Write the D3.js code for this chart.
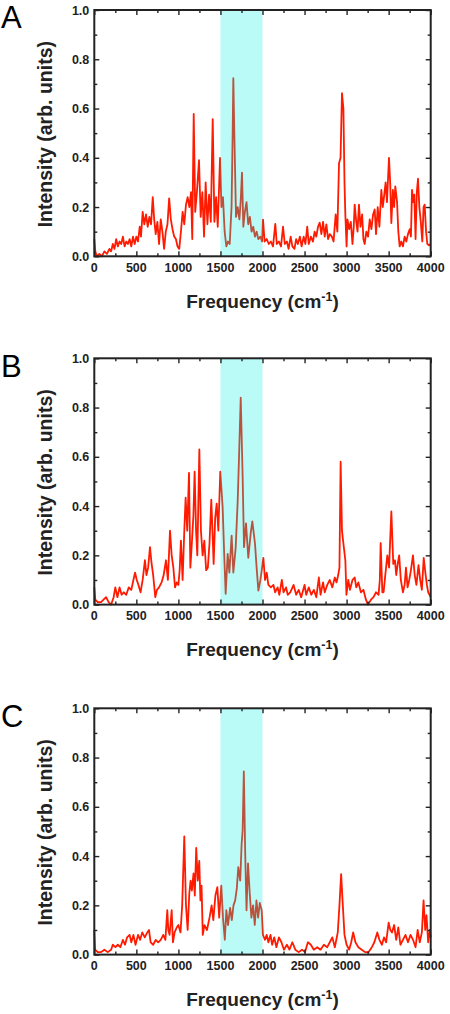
<!DOCTYPE html>
<html><head><meta charset="utf-8">
<script src="https://cdn.jsdelivr.net/npm/d3@7"></script>
<style>
html,body{margin:0;padding:0;background:#fff;}
svg{display:block;}
</style></head>
<body>
<svg id="chart" width="450" height="1014"></svg>
<script>
// ---- data (frequency cm^-1, intensity arb. units) ----
const panelLabels = ["A", "B", "C"];
const xTicks = [0, 500, 1000, 1500, 2000, 2500, 3000, 3500, 4000];
const yTicks = [0.0, 0.2, 0.4, 0.6, 0.8, 1.0];
const highlightBand = [1500, 2000];

const specA = [[0,0.07],[12,0.02],[30,0.0],[60,0.01],[90,0.0],[120,0.02],[150,0.01],[180,0.03],[200,0.02],[220,0.05],[240,0.03],[260,0.07],[280,0.04],[300,0.06],[320,0.05],[340,0.08],[360,0.04],[380,0.06],[400,0.05],[420,0.07],[440,0.04],[460,0.08],[480,0.05],[500,0.08],[520,0.06],[540,0.12],[555,0.08],[575,0.18],[595,0.13],[615,0.17],[635,0.12],[655,0.16],[675,0.13],[695,0.24],[712,0.15],[730,0.09],[750,0.14],[770,0.05],[790,0.15],[810,0.1],[830,0.03],[850,0.1],[870,0.13],[890,0.235],[910,0.15],[930,0.11],[950,0.08],[970,0.07],[990,0.04],[1010,0.03],[1030,0.1],[1050,0.18],[1070,0.13],[1090,0.21],[1110,0.24],[1130,0.2],[1150,0.26],[1165,0.07],[1182,0.578],[1200,0.18],[1220,0.26],[1245,0.39],[1265,0.16],[1285,0.26],[1305,0.08],[1324,0.3],[1345,0.13],[1365,0.25],[1385,0.14],[1408,0.557],[1428,0.14],[1448,0.24],[1468,0.12],[1495,0.40],[1512,0.2],[1530,0.24],[1550,0.1],[1570,0.04],[1590,0.06],[1610,0.05],[1632,0.2],[1645,0.5],[1653,0.723],[1668,0.45],[1685,0.16],[1705,0.2],[1725,0.15],[1740,0.22],[1756,0.34],[1772,0.12],[1790,0.18],[1810,0.22],[1830,0.13],[1850,0.16],[1870,0.1],[1890,0.12],[1910,0.08],[1930,0.1],[1950,0.07],[1975,0.08],[1995,0.06],[2006,0.149],[2025,0.06],[2050,0.07],[2075,0.05],[2100,0.06],[2125,0.04],[2152,0.132],[2170,0.05],[2195,0.06],[2220,0.04],[2244,0.12],[2265,0.05],[2290,0.06],[2310,0.03],[2335,0.08],[2355,0.04],[2380,0.03],[2400,0.07],[2420,0.05],[2445,0.08],[2465,0.04],[2490,0.08],[2510,0.05],[2532,0.12],[2550,0.05],[2575,0.08],[2600,0.06],[2620,0.1],[2640,0.08],[2660,0.12],[2680,0.137],[2700,0.09],[2720,0.14],[2740,0.08],[2759,0.13],[2780,0.07],[2800,0.09],[2825,0.08],[2845,0.06],[2870,0.17],[2890,0.1],[2910,0.378],[2928,0.4],[2945,0.662],[2962,0.6],[2975,0.3],[2985,0.17],[3000,0.04],[3010,0.15],[3030,0.11],[3050,0.14],[3070,0.05],[3085,0.12],[3096,0.21],[3115,0.14],[3130,0.1],[3147,0.21],[3165,0.12],[3185,0.17],[3200,0.07],[3215,0.05],[3235,0.1],[3255,0.08],[3275,0.15],[3295,0.11],[3315,0.17],[3334,0.19],[3350,0.09],[3370,0.2],[3390,0.12],[3413,0.27],[3430,0.2],[3448,0.25],[3464,0.30],[3480,0.22],[3504,0.40],[3518,0.3],[3532,0.135],[3550,0.27],[3565,0.2],[3579,0.284],[3600,0.22],[3615,0.1],[3631,0.04],[3650,0.06],[3670,0.04],[3690,0.08],[3710,0.06],[3730,0.09],[3750,0.11],[3765,0.08],[3778,0.27],[3792,0.22],[3805,0.25],[3820,0.07],[3835,0.26],[3849,0.315],[3865,0.2],[3882,0.14],[3900,0.06],[3915,0.2],[3928,0.21],[3945,0.1],[3960,0.05],[3980,0.045],[4000,0.05]];

const specB = [[0,0.07],[12,0.02],[40,0.01],[80,0.01],[110,0.02],[140,0.03],[170,0.01],[200,0.0],[230,0.03],[250,0.07],[275,0.03],[300,0.07],[325,0.04],[350,0.05],[380,0.04],[410,0.07],[440,0.06],[465,0.1],[484,0.13],[505,0.1],[525,0.08],[550,0.05],[575,0.1],[602,0.18],[620,0.12],[640,0.15],[662,0.233],[680,0.17],[700,0.12],[725,0.03],[745,0.06],[770,0.07],[800,0.09],[825,0.12],[852,0.18],[875,0.1],[900,0.30],[920,0.2],[940,0.15],[960,0.07],[980,0.09],[1000,0.08],[1015,0.14],[1030,0.26],[1050,0.1],[1070,0.3],[1086,0.434],[1105,0.3],[1126,0.535],[1142,0.15],[1160,0.25],[1178,0.36],[1193,0.54],[1210,0.3],[1225,0.2],[1249,0.63],[1268,0.3],[1288,0.2],[1308,0.26],[1330,0.14],[1350,0.15],[1370,0.25],[1391,0.426],[1405,0.3],[1419,0.165],[1437,0.35],[1455,0.41],[1475,0.3],[1498,0.54],[1526,0.396],[1545,0.2],[1562,0.044],[1586,0.206],[1606,0.13],[1633,0.28],[1653,0.13],[1681,0.23],[1705,0.42],[1721,0.6],[1741,0.84],[1764,0.518],[1780,0.233],[1804,0.33],[1831,0.19],[1860,0.29],[1879,0.338],[1911,0.247],[1930,0.15],[1951,0.057],[1975,0.1],[1995,0.15],[2010,0.19],[2030,0.1],[2050,0.13],[2070,0.08],[2100,0.07],[2130,0.08],[2150,0.05],[2180,0.07],[2200,0.04],[2230,0.1],[2250,0.05],[2280,0.07],[2300,0.04],[2330,0.05],[2370,0.08],[2400,0.04],[2430,0.06],[2460,0.03],[2500,0.08],[2520,0.04],[2550,0.07],[2580,0.04],[2610,0.06],[2640,0.03],[2670,0.11],[2690,0.04],[2720,0.09],[2740,0.05],[2770,0.08],[2800,0.1],[2830,0.07],[2860,0.11],[2880,0.09],[2900,0.12],[2915,0.15],[2929,0.58],[2945,0.3],[2960,0.254],[2985,0.18],[2998,0.04],[3020,0.1],[3040,0.06],[3070,0.1],[3096,0.11],[3115,0.07],[3140,0.09],[3170,0.05],[3200,0.06],[3230,0.02],[3254,0.0],[3290,0.02],[3320,0.03],[3350,0.05],[3380,0.04],[3395,0.1],[3405,0.25],[3425,0.05],[3440,0.05],[3460,0.12],[3484,0.2],[3505,0.15],[3532,0.378],[3555,0.165],[3575,0.18],[3590,0.12],[3610,0.17],[3625,0.2],[3645,0.1],[3670,0.05],[3690,0.08],[3706,0.15],[3725,0.07],[3745,0.1],[3765,0.14],[3789,0.2],[3810,0.12],[3830,0.08],[3855,0.16],[3875,0.1],[3895,0.06],[3917,0.19],[3940,0.12],[3955,0.08],[3970,0.05],[4000,0.03]];

const specC = [[0,0.1],[10,0.02],[40,0.01],[80,0.01],[120,0.02],[160,0.01],[200,0.02],[220,0.04],[250,0.03],[280,0.04],[310,0.03],[340,0.06],[365,0.04],[390,0.07],[420,0.08],[440,0.05],[465,0.08],[490,0.04],[520,0.08],[545,0.06],[570,0.09],[600,0.07],[630,0.09],[650,0.1],[670,0.05],[700,0.04],[730,0.06],[760,0.05],[790,0.06],[820,0.08],[845,0.06],[868,0.18],[880,0.1],[895,0.08],[920,0.18],[935,0.05],[955,0.09],[980,0.11],[1000,0.12],[1025,0.09],[1045,0.2],[1070,0.48],[1090,0.2],[1110,0.1],[1130,0.25],[1145,0.3],[1160,0.26],[1180,0.33],[1195,0.24],[1212,0.433],[1230,0.3],[1248,0.38],[1262,0.22],[1275,0.28],[1290,0.08],[1310,0.12],[1340,0.1],[1370,0.15],[1395,0.2],[1415,0.14],[1440,0.24],[1463,0.274],[1485,0.15],[1510,0.28],[1530,0.15],[1552,0.06],[1570,0.18],[1590,0.12],[1615,0.19],[1635,0.14],[1655,0.2],[1675,0.22],[1695,0.27],[1712,0.355],[1735,0.3],[1752,0.45],[1764,0.505],[1778,0.744],[1795,0.4],[1810,0.18],[1828,0.37],[1848,0.25],[1868,0.15],[1888,0.2],[1908,0.12],[1928,0.22],[1948,0.15],[1968,0.21],[1990,0.18],[2005,0.08],[2030,0.06],[2050,0.08],[2070,0.05],[2095,0.08],[2115,0.04],[2140,0.07],[2165,0.03],[2195,0.07],[2225,0.05],[2255,0.02],[2290,0.04],[2320,0.02],[2355,0.05],[2390,0.02],[2430,0.01],[2470,0.02],[2505,0.01],[2540,0.05],[2575,0.04],[2610,0.02],[2650,0.03],[2690,0.02],[2730,0.04],[2770,0.03],[2800,0.05],[2830,0.07],[2860,0.03],[2895,0.09],[2915,0.2],[2935,0.327],[2955,0.2],[2975,0.08],[3000,0.04],[3030,0.02],[3055,0.05],[3078,0.09],[3105,0.05],[3140,0.03],[3180,0.02],[3220,0.01],[3260,0.01],[3300,0.03],[3330,0.05],[3365,0.09],[3390,0.06],[3420,0.04],[3445,0.07],[3470,0.05],[3500,0.13],[3520,0.1],[3540,0.09],[3565,0.12],[3590,0.06],[3615,0.11],[3640,0.04],[3670,0.06],[3700,0.08],[3730,0.05],[3760,0.08],[3790,0.06],[3820,0.03],[3845,0.1],[3870,0.05],[3895,0.09],[3915,0.22],[3935,0.1],[3950,0.16],[3970,0.05],[3990,0.1],[4000,0.07]];

const spectra = [specA, specB, specC];

// ---- layout ----
const svg = d3.select("#chart");
const left = 94.3, right = 430.7, plotH = 246.3;
const tops = [10, 358.3, 708.3];
const FONT = "'Liberation Sans', Arial, Helvetica, sans-serif";

const x = d3.scaleLinear().domain([0, 4000]).range([left, right]);

spectra.forEach((data, i) => {
  const top = tops[i];
  const bottom = top + plotH;
  const y = d3.scaleLinear().domain([0, 1]).range([bottom, top]);
  const g = svg.append("g");

  // spectrum line
  const line = d3.line().x(d => x(d[0])).y(d => y(d[1]));
  g.append("path").datum(data)
    .attr("d", line)
    .attr("fill", "none")
    .attr("stroke", "#ff1a00")
    .attr("stroke-width", 1.8)
    .attr("stroke-linejoin", "round");

  // highlight band (translucent, over the line)
  g.append("rect")
    .attr("x", x(highlightBand[0]))
    .attr("y", top)
    .attr("width", x(highlightBand[1]) - x(highlightBand[0]))
    .attr("height", plotH)
    .attr("fill", "#00f0e6")
    .attr("fill-opacity", 0.27);

  // axes with inward ticks
  const xMinor = d3.range(0, 4001, 250);
  const yMinor = d3.range(0, 1.001, 0.1);
  const addTicks = (axisFn, scale, vals, transform, majorTest) => {
    const ag = g.append("g").attr("transform", transform);
    ag.call(axisFn(scale).tickValues(vals).tickFormat("").tickSizeOuter(0)
      .tickSize(-5));
    ag.selectAll(".tick line")
      .attr("stroke", "#222").attr("stroke-width", 1.4)
      .each(function(d) {
        if (!majorTest(d)) {
          const ln = d3.select(this);
          ["x2", "y2"].forEach(a => {
            const v = +ln.attr(a);
            if (v) ln.attr(a, v > 0 ? 3 : -3);
          });
        }
      });
    ag.select(".domain").remove();
  };
  const xMajor = d => Math.round(d) % 500 === 0;
  const yMajor = d => Math.abs(Math.round(d * 10) % 2) === 0;
  addTicks(d3.axisBottom, x, xMinor, `translate(0,${bottom})`, xMajor);
  addTicks(d3.axisTop, x, xMinor, `translate(0,${top})`, xMajor);
  addTicks(d3.axisLeft, y, yMinor, `translate(${left},0)`, yMajor);
  addTicks(d3.axisRight, y, yMinor, `translate(${right},0)`, yMajor);

  // frame
  g.append("rect")
    .attr("x", left).attr("y", top)
    .attr("width", right - left).attr("height", plotH)
    .attr("fill", "none").attr("stroke", "#222").attr("stroke-width", 2);

  // tick labels
  g.selectAll(".xl").data(xTicks).enter().append("text")
    .attr("x", d => x(d)).attr("y", bottom + 15.5)
    .attr("text-anchor", "middle")
    .attr("font-family", FONT).attr("font-weight", "bold").attr("font-size", 12.5)
    .attr("fill", "#222")
    .text(d => d);
  g.selectAll(".yl").data(yTicks).enter().append("text")
    .attr("x", left - 5).attr("y", d => y(d) + 4.5)
    .attr("text-anchor", "end")
    .attr("font-family", FONT).attr("font-weight", "bold").attr("font-size", 12.5)
    .attr("fill", "#222")
    .text(d => d.toFixed(1));

  // x title
  const xt = g.append("text")
    .attr("x", (left + right) / 2).attr("y", bottom + 51.5)
    .attr("text-anchor", "middle")
    .attr("font-family", FONT).attr("font-weight", "bold").attr("font-size", 19)
    .attr("fill", "#222");
  xt.append("tspan").text("Frequency (cm");
  xt.append("tspan").attr("dy", -7).attr("font-size", 12.5).text("-1");
  xt.append("tspan").attr("dy", 7).text(")");

  // y title
  g.append("text")
    .attr("transform", `translate(52,${(top + bottom) / 2 + 1}) rotate(-90)`)
    .attr("text-anchor", "middle")
    .attr("font-family", FONT).attr("font-weight", "bold").attr("font-size", 19.5)
    .attr("fill", "#222")
    .text("Intensity (arb. units)");

  // panel label
  g.append("text")
    .attr("x", 1).attr("y", top + 18.3)
    .attr("font-family", FONT).attr("font-size", 31)
    .attr("fill", "#000")
    .text(panelLabels[i]);
});
</script>
</body></html>
